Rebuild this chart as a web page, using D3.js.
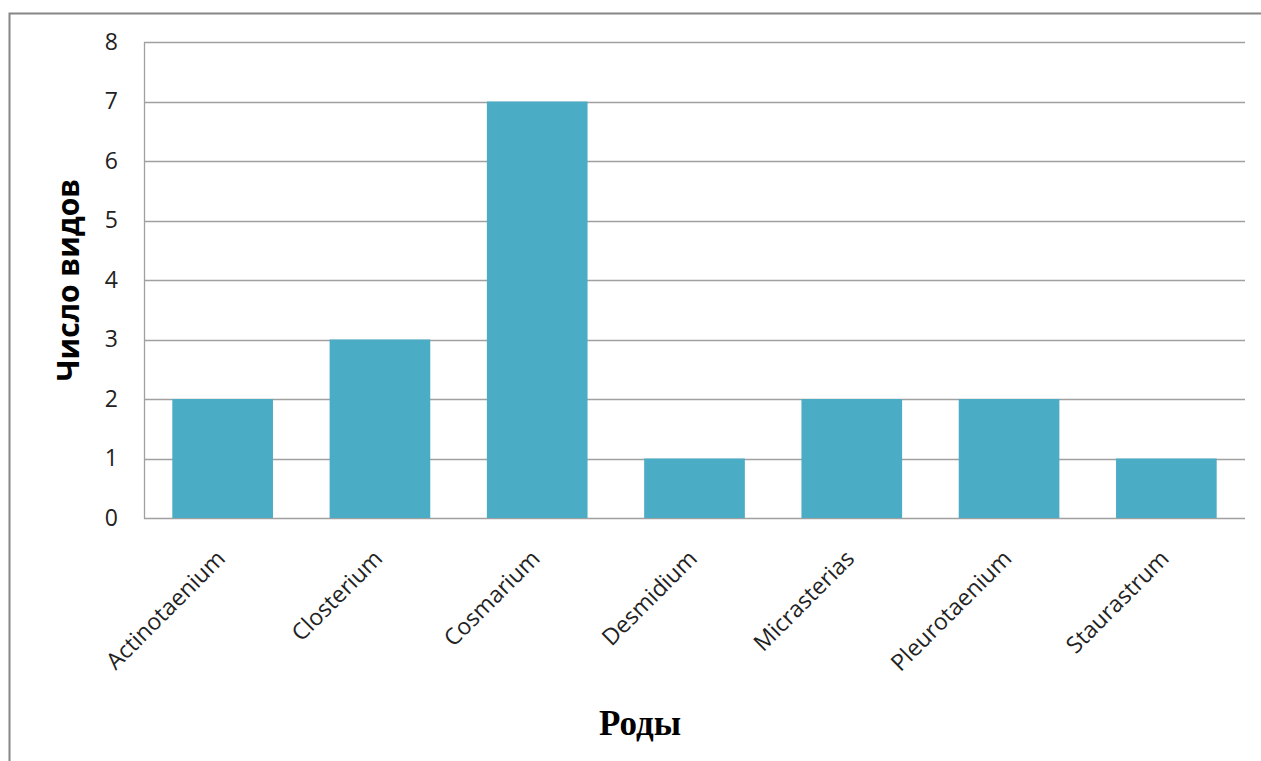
<!DOCTYPE html>
<html>
<head>
<meta charset="utf-8">
<script src="https://cdn.jsdelivr.net/npm/d3@7"></script>
<style>
  html, body { margin: 0; padding: 0; background: #fff; }
  svg { display: block; }
</style>
</head>
<body>
<svg id="chart" width="1261" height="761"></svg>
<script>
// Genera of desmids and number of species found in each
const genera = ["Actinotaenium", "Closterium", "Cosmarium", "Desmidium", "Micrasterias", "Pleurotaenium", "Staurastrum"];
const speciesCount = [2, 3, 7, 1, 2, 2, 1];
const yTicks = [0, 1, 2, 3, 4, 5, 6, 7, 8];
const yTitle = "Число видов";
const xTitle = "Роды";

const svg = d3.select("#chart");
const W = 1261, H = 761;
const plot = { left: 144, top: 42, right: 1245, bottom: 518 };

// outer chart frame
svg.append("path")
  .attr("d", `M9.5,${H} L9.5,13.5 L${W},13.5`)
  .attr("fill", "none")
  .attr("stroke", "#868686")
  .attr("stroke-width", 2);

const x = d3.scaleBand()
  .domain(genera)
  .range([plot.left, plot.right])
  .paddingInner(0.36)
  .paddingOuter(0.18);

const y = d3.scaleLinear()
  .domain([0, 8])
  .range([plot.bottom, plot.top]);

// horizontal gridlines
svg.append("g")
  .selectAll("line")
  .data(yTicks)
  .join("line")
  .attr("x1", plot.left)
  .attr("x2", plot.right)
  .attr("y1", d => Math.round(y(d)) + 0.5)
  .attr("y2", d => Math.round(y(d)) + 0.5)
  .attr("stroke", "#a0a0a0")
  .attr("stroke-width", 1.3);

// bars
svg.append("g")
  .selectAll("rect")
  .data(genera)
  .join("rect")
  .attr("x", d => x(d))
  .attr("width", x.bandwidth())
  .attr("y", (d, i) => y(speciesCount[i]))
  .attr("height", (d, i) => y(0) - y(speciesCount[i]))
  .attr("fill", "#4BACC6");

// left axis line
svg.append("line")
  .attr("x1", plot.left + 0.5).attr("x2", plot.left + 0.5)
  .attr("y1", plot.top).attr("y2", plot.bottom + 1)
  .attr("stroke", "#a0a0a0").attr("stroke-width", 1.3);

// y axis labels
const yAxis = d3.axisLeft(y).tickValues(yTicks).tickSize(0).tickPadding(26).tickFormat(d3.format("d"));
const gy = svg.append("g").attr("transform", `translate(${plot.left},0)`).call(yAxis);
gy.select(".domain").remove();
gy.selectAll("text")
  .attr("font-family", "'Open Sans', 'Noto Sans', sans-serif")
  .attr("font-size", 23)
  .attr("fill", "#222");

// x axis labels, rotated
const xAxis = d3.axisBottom(x).tickSize(0).tickPadding(0);
const gx = svg.append("g").attr("transform", `translate(0,${plot.bottom})`).call(xAxis);
gx.select(".domain").remove();
gx.selectAll("text")
  .attr("font-family", "'Open Sans', 'Noto Sans', sans-serif")
  .attr("font-size", 23)
  .attr("fill", "#222")
  .attr("text-anchor", "end")
  .attr("dy", null)
  .attr("y", 0)
  .attr("transform", "translate(4,42) rotate(-45)");

// y title
svg.append("text")
  .attr("transform", "translate(79,280) rotate(-90)")
  .attr("text-anchor", "middle")
  .attr("font-family", "'Open Sans', 'Noto Sans', sans-serif")
  .attr("font-weight", "bold")
  .attr("font-size", 30)
  .attr("fill", "#000")
  .text(yTitle);

// x title
svg.append("text")
  .attr("x", 640)
  .attr("y", 735)
  .attr("text-anchor", "middle")
  .attr("font-family", "'Liberation Serif', 'Times New Roman', serif")
  .attr("font-weight", "bold")
  .attr("font-size", 35)
  .attr("fill", "#000")
  .text(xTitle);
</script>
</body>
</html>
